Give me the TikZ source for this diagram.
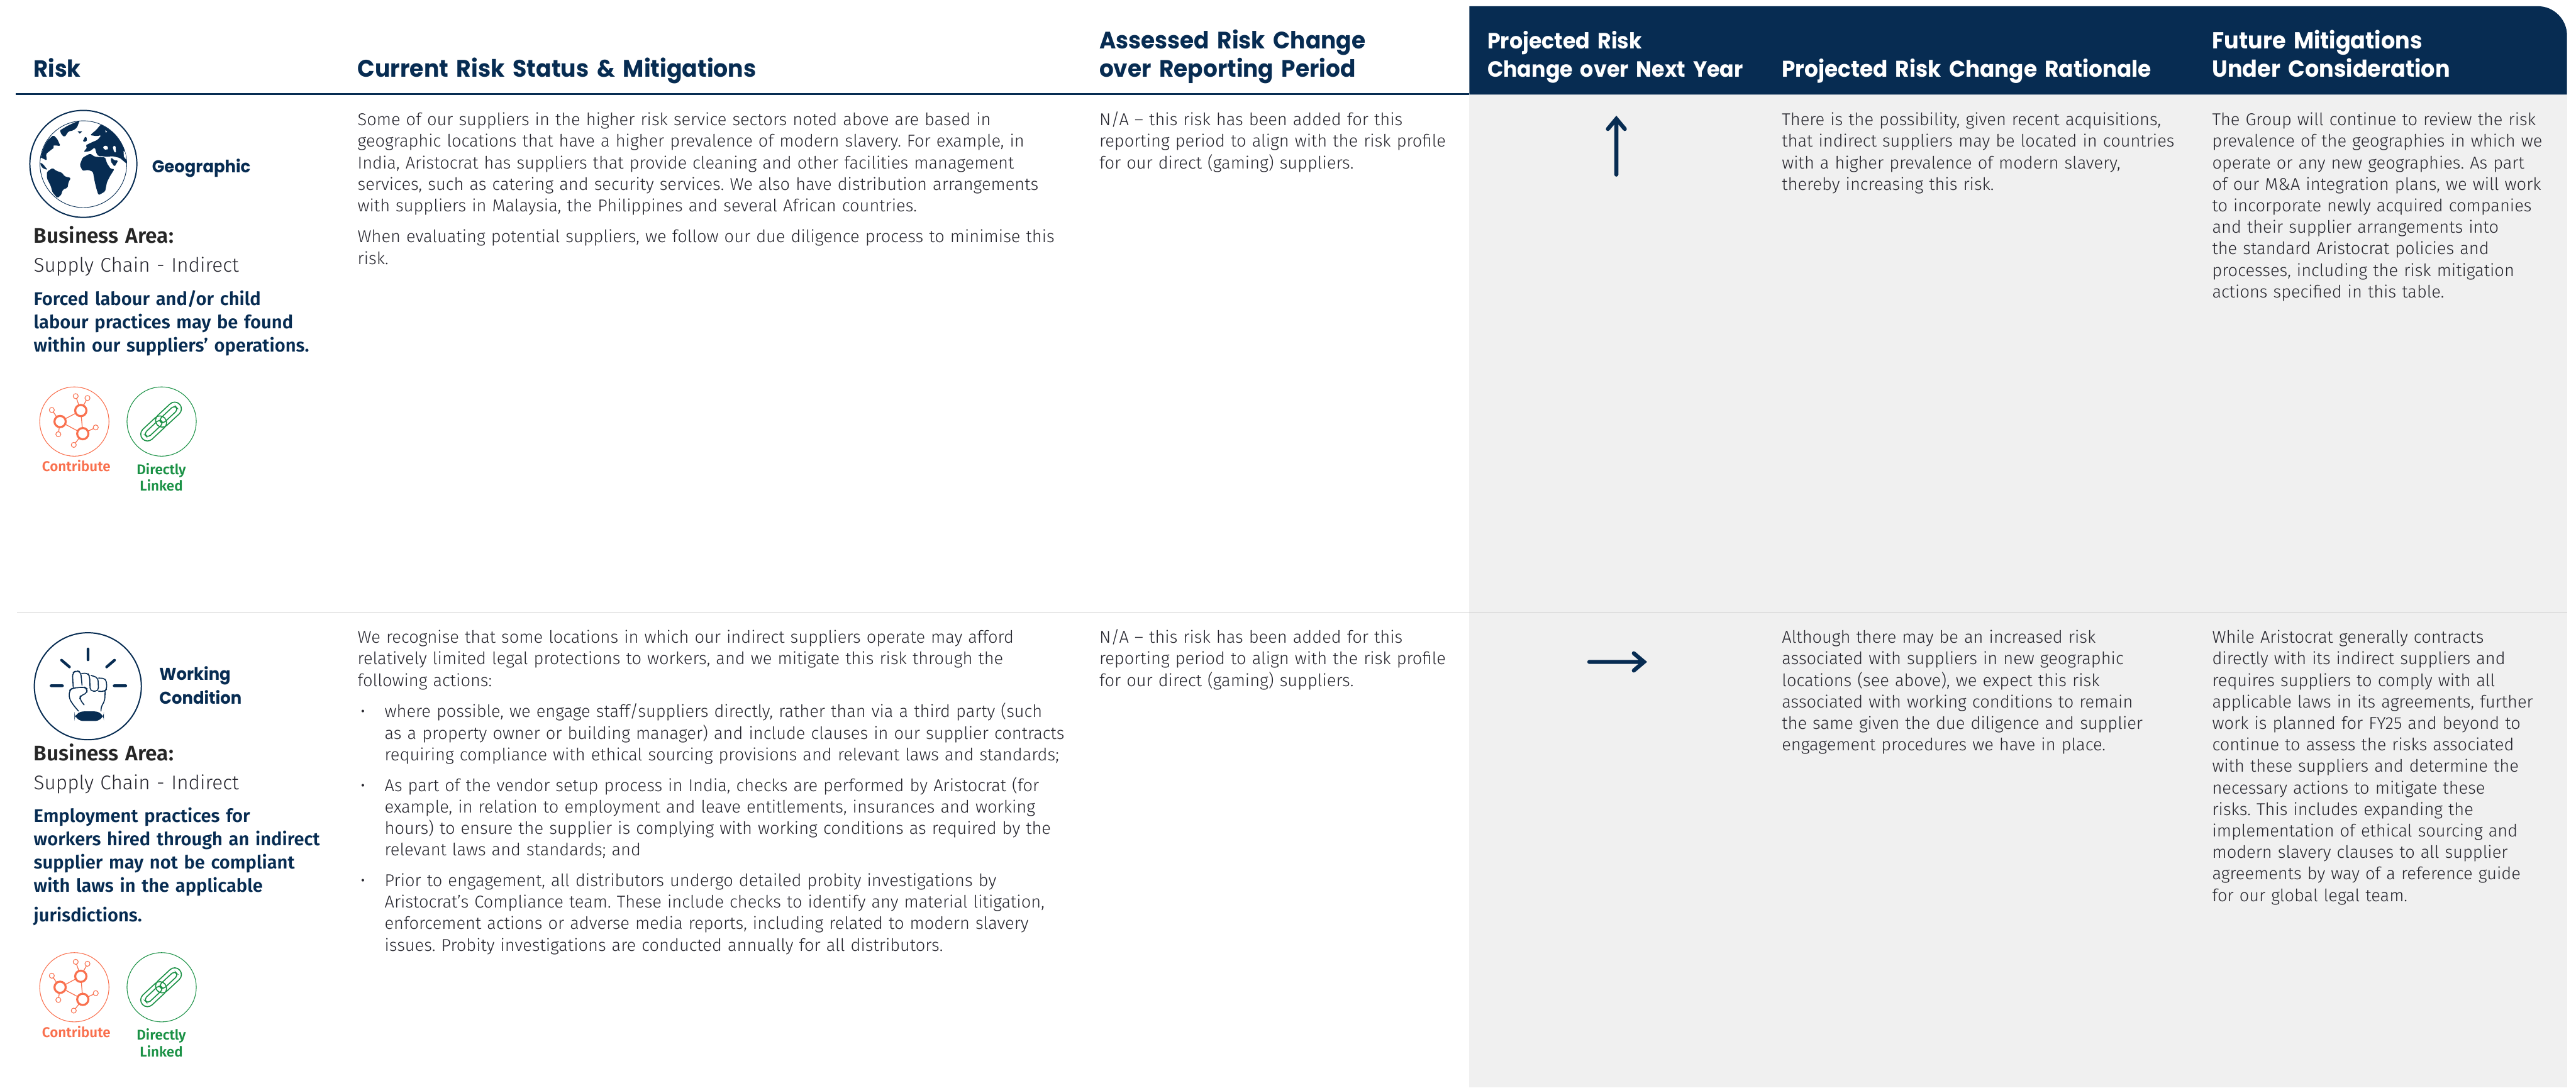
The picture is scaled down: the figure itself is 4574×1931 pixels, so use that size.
\documentclass[tikz,border=0pt]{standalone}
\usepackage{fontspec}
\setmainfont{Fira Sans Light}
\newfontfamily\headf{Poppins Bold}[FakeStretch=0.95]
\newfontfamily\medf{Fira Sans Medium}
\newfontfamily\boldf{Fira Sans}[UprightFont=* SemiBold]
\definecolor{navy}{HTML}{072C52}
\definecolor{bodyc}{HTML}{24242C}
\definecolor{greyp}{HTML}{F0F0F0}
\definecolor{rowl}{HTML}{C8C8C8}
\definecolor{coral}{HTML}{F9704E}
\definecolor{leaf}{HTML}{1A9145}
\newcommand\headsz[1]{\headf\fontsize{#1}{25.5}\selectfont}
\tikzset{
 x=0.5pt,y=-0.5pt,
 txt/.style={inner sep=0pt,outer sep=0pt,anchor=base west,align=left},
 body/.style={txt,text width=700pt,text=bodyc,font=\frenchspacing\fontsize{15.2}{19.1}\selectfont},
 head/.style={txt,text width=500pt,text=navy,font=\headsz{20.8}},
 headw/.style={head,text=white},
 cat/.style={txt,text width=150pt,text=navy,font=\headf\fontsize{15.2}{21}\selectfont},
 barea/.style={txt,text width=400pt,text=black!85,font=\boldf\fontsize{18.7}{20}\selectfont},
 sarea/.style={txt,text width=400pt,text=bodyc,font=\fontsize{17.6}{20}\selectfont},
 riskt/.style={txt,text width=400pt,text=navy,font=\boldf\fontsize{16.25}{20.6}\selectfont},
 iconl/.style={inner sep=0pt,outer sep=0pt,anchor=base,text width=100pt,align=center,font=\boldf\fontsize{12.5}{15}\selectfont},
 trend/.style={navy,line width=3.6pt,line cap=round,line join=miter},
 contribute/.pic={
  \draw[coral,line width=0.6pt] (132,748.5) circle[radius=61.5];
  \draw[coral,line width=0.7pt] (106.7,748.5)--(143.5,729)--(147,770)--cycle
    (143.5,729)--(134.4,703.4) (143.5,729)--(155.3,706.8)
    (106.7,748.5)--(92,728) (106.7,748.5)--(103.6,771)
    (147,770)--(170,759) (147,770)--(131,790);
  \foreach \p in {(134.4,703.4),(155.3,706.8),(92,728),(103.6,771),(170,759),(131,790)}
    \draw[coral,fill=white,line width=0.6pt] \p circle[radius=4.5];
  \foreach \p in {(106.7,748.5),(143.5,729),(147,770)}
    \draw[coral,fill=white,line width=1.8pt] \p circle[radius=10];
 },
 linked/.pic={
  \draw[leaf,line width=0.6pt] (287,748.5) circle[radius=61.5];
  \begin{scope}[shift={(286,748.5)},rotate=43,leaf,line width=0.9pt]
   \draw[rounded corners=6pt] (-45,-12) rectangle (9,12);
   \draw[rounded corners=3pt] (-37,-5) rectangle (1,5);
   \draw[rounded corners=6pt] (-9,-12) rectangle (45,12);
   \draw[rounded corners=3pt] (-1,-5) rectangle (37,5);
  \end{scope}
 },
}
\begin{document}
\begin{tikzpicture}
\useasboundingbox (0,0) rectangle (4574,1931);
% panels
\fill[greyp] (2609,167) rectangle (4558,1931);
\fill[navy] (2609,11) -- (4506,11) arc[start angle=-90,end angle=0,radius=52] -- (4558,168) -- (2609,168) -- cycle;
\coordinate (hl) at (28,167); \coordinate (hr) at (2609,167);
\draw[navy,line width=1.2pt] (hl)--(hr);
\coordinate (rl) at (30,1088); \coordinate (rr) at (4558,1088);
\draw[rowl,line width=0.7pt] (rl)--(rr);
% headers
\node[head] (hRisk) at (60,137) {Risk};
\node[head,font=\headsz{21.3}] (hCur) at (635,137) {Current Risk Status \& Mitigations};
\node[head,font=\headsz{21.1}] (hAss) at (1952,86) {Assessed Risk Change\\over Reporting Period};
\node[headw,font=\headsz{19.6}] (hPro) at (2641,86) {Projected Risk\\Change over Next Year};
\node[headw,font=\headsz{20.2}] (hRat) at (3164,137) {Projected Risk Change Rationale};
\node[headw,font=\headsz{20.6}] (hFut) at (3928,86) {Future Mitigations\\Under Consideration};
% row 1 left
\draw[navy,line width=1.1pt] (148,291) circle[radius=95];
\draw[navy,line width=0.5pt] (148,291.5) circle[radius=77];
\begin{scope}[x=0.5pt/3,y=-0.5pt/3,shift={(120,570)},navy]
 \clip (325,305) circle[radius=230];
 \fill[rounded corners=1pt] (198,125)--(240,100)--(305,70)--(290,110)--(270,125)--(245,130)--(225,160)--(210,150)--cycle;
 \fill[rounded corners=1pt] (165,150)--(185,170)--(202,208)--(180,205)--(160,205)--(170,215)--(150,230)--(125,250)--(130,285)--(120,280)--(90,265)--(110,215)--(130,180)--cycle;
 \fill[rounded corners=1pt] (93,295)--(110,305)--(125,325)--(135,335)--(115,330)--(100,318)--cycle;
 \fill[rounded corners=1pt] (130,345)--(160,325)--(180,340)--(210,350)--(225,370)--(258,378)--(245,400)--(240,430)--(215,440)--(205,470)--(185,485)--(160,455)--(150,420)--(130,380)--cycle;
 \fill (293,130)--(318,130)--(305,142)--cycle;
 \fill[rounded corners=1pt] (320,185)--(335,155)--(345,170)--(340,185)--cycle;
 \fill[rounded corners=1pt] (360,150)--(395,120)--(415,95)--(480,80)--(560,180)--(565,310)--(540,290)--(520,272)--(480,262)--(450,265)--(425,262)--(405,262)--(395,250)--(385,215)--(360,235)--(325,240)--(345,215)--(335,205)--(365,190)--(400,175)--(420,150)--(395,155)--cycle;
 \fill[white,rounded corners=1pt] (428,210)--(450,205)--(458,225)--(435,228)--cycle;
 \fill[white,rounded corners=1pt] (480,210)--(495,205)--(498,245)--(488,240)--cycle;
 \fill[white] (440,125)--(450,130)--(445,137)--cycle;
 \fill[white] (538,235)--(548,240)--(552,280)--(540,265)--cycle;
 \fill[rounded corners=1pt] (305,310)--(320,270)--(360,248)--(385,265)--(440,268)--(450,300)--(470,330)--(490,330)--(465,370)--(450,400)--(440,450)--(405,470)--(395,440)--(385,400)--(375,345)--(350,335)--(320,340)--cycle;
 \fill[rounded corners=1pt] (472,268)--(490,285)--(510,285)--(490,318)--(470,290)--cycle;
\end{scope}
\node[cat] (cGeo) at (270,306) {Geographic};
\node[barea] (b1) at (60,432) {Business Area:};
\node[sarea] (s1) at (60,483) {Supply Chain - Indirect};
\node[riskt] (r1) at (60,542) {Forced labour and/or child\\labour practices may be found\\within our suppliers’ operations.};
\pic (cA) at (0,0) {contribute};
\pic (lA) at (0,0) {linked};
\node[iconl,text=coral] (cT1) at (135.5,837) {Contribute};
\node[iconl,text=leaf] (lT1) at (286.5,842) {Directly\\Linked};
% row 1 text
\node[body] (t11) at (635,223) {Some of our suppliers in the higher risk service sectors noted above are based in\\geographic locations that have a higher prevalence of modern slavery. For example, in\\India, Aristocrat has suppliers that provide cleaning and other facilities management\\services, such as catering and security services. We also have distribution arrangements\\with suppliers in Malaysia, the Philippines and several African countries.};
\node[body] (t12) at (635,431) {When evaluating potential suppliers, we follow our due diligence process to minimise this\\risk.};
\node[body] (t13) at (1952,223) {N/A – this risk has been added for this\\reporting period to align with the risk profile\\for our direct (gaming) suppliers.};
\node[body] (t15) at (3164,223) {There is the possibility, given recent acquisitions,\\that indirect suppliers may be located in countries\\with a higher prevalence of modern slavery,\\thereby increasing this risk.};
\node[body] (t16) at (3928,223) {The Group will continue to review the risk\\prevalence of the geographies in which we\\operate or any new geographies. As part\\of our M\&A integration plans, we will work\\to incorporate newly acquired companies\\and their supplier arrangements into\\the standard Aristocrat policies and\\processes, including the risk mitigation\\actions specified in this table.};
% arrows
\coordinate (uS) at (2870,310); \coordinate (uT) at (2870,211);
\coordinate (uL) at (2855,229); \coordinate (uR) at (2885,229);
\draw[trend] (uS)--(uT) (uL)--(uT)--(uR);
\coordinate (rS) at (2822,1175.3); \coordinate (rT) at (2919,1175.3);
\coordinate (rU) at (2901,1160); \coordinate (rD) at (2901,1190.6);
\draw[trend] (rS)--(rT) (rU)--(rT)--(rD);
% row 2 left
\draw[navy,line width=1.1pt] (156,1218.5) circle[radius=95];
\begin{scope}[x=0.5pt/3,y=-0.5pt/3,shift={(150,3360)},navy]
 \draw[line width=2.4pt,line cap=round] (319,97)--(319,155) (178,157)--(220,193) (460,157)--(418,193) (122,293)--(183,293) (458,293)--(520,293);
 \fill[rounded corners=8pt] (247,430) rectangle (403,481);
 \draw[line width=0.9pt,line cap=round,line join=round,rounded corners=3pt]
  (240,302)--(236,225)--(255,213)--(280,218)--(287,290)
  (285,228)--(318,225)--(328,245)--(330,322)--(375,322)--(372,250)--(335,238)
  (375,252)--(415,255)--(420,310)--(405,325)--(375,322)
  (298,395)--(275,365)--(278,345)--(312,335)--(315,310)--(300,300)--(235,306)--(220,318)--(218,360)--(240,395)--(268,428)
  (410,325)--(408,375)--(388,405)--(388,428);
\end{scope}
\node[cat] (cWork) at (283,1208) {Working\\Condition};
\node[barea] (b2) at (60,1351) {Business Area:};
\node[sarea] (s2) at (60,1402) {Supply Chain - Indirect};
\node[riskt] (r2) at (60,1460) {Employment practices for\\workers hired through an indirect\\supplier may not be compliant\\with laws in the applicable};
\node[riskt] (r3) at (60,1636) {jurisdictions.};
\pic (cB) at (0,1004.5) {contribute};
\pic (lB) at (0,1004.5) {linked};
\node[iconl,text=coral] (cT2) at (135.5,1841.5) {Contribute};
\node[iconl,text=leaf] (lT2) at (286.5,1847) {Directly\\Linked};
% row 2 text
\node[body] (t21) at (635,1142) {We recognise that some locations in which our indirect suppliers operate may afford\\relatively limited legal protections to workers, and we mitigate this risk through the\\following actions:};
\node[body] (bu1) at (640,1274) {•};
\node[body] (t22) at (683,1274) {where possible, we engage staff/suppliers directly, rather than via a third party (such\\as a property owner or building manager) and include clauses in our supplier contracts\\requiring compliance with ethical sourcing provisions and relevant laws and standards;};
\node[body] (bu2) at (640,1405) {•};
\node[body] (t23) at (683,1405) {As part of the vendor setup process in India, checks are performed by Aristocrat (for\\example, in relation to employment and leave entitlements, insurances and working\\hours) to ensure the supplier is complying with working conditions as required by the\\relevant laws and standards; and};
\node[body] (bu3) at (640,1574) {•};
\node[body] (t24) at (683,1574) {Prior to engagement, all distributors undergo detailed probity investigations by\\Aristocrat’s Compliance team. These include checks to identify any material litigation,\\enforcement actions or adverse media reports, including related to modern slavery\\issues. Probity investigations are conducted annually for all distributors.};
\node[body] (t25) at (1952,1142) {N/A – this risk has been added for this\\reporting period to align with the risk profile\\for our direct (gaming) suppliers.};
\node[body] (t26) at (3164,1142) {Although there may be an increased risk\\associated with suppliers in new geographic\\locations (see above), we expect this risk\\associated with working conditions to remain\\the same given the due diligence and supplier\\engagement procedures we have in place.};
\node[body] (t27) at (3928,1142) {While Aristocrat generally contracts\\directly with its indirect suppliers and\\requires suppliers to comply with all\\applicable laws in its agreements, further\\work is planned for FY25 and beyond to\\continue to assess the risks associated\\with these suppliers and determine the\\necessary actions to mitigate these\\risks. This includes expanding the\\implementation of ethical sourcing and\\modern slavery clauses to all supplier\\agreements by way of a reference guide\\for our global legal team.};
\end{tikzpicture}
\end{document}
